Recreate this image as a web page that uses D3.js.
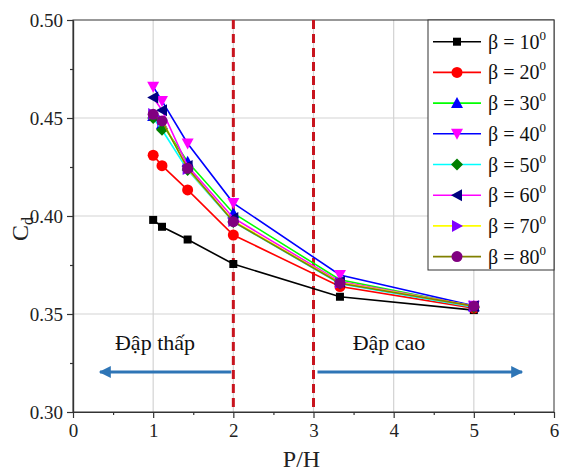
<!DOCTYPE html>
<html><head><meta charset="utf-8">
<script src="https://cdn.jsdelivr.net/npm/d3@7/dist/d3.min.js"></script>
<style>body{margin:0;background:#fff}svg{display:block}</style>
</head><body>
<svg id="c" width="561" height="471"></svg>
<script>
const xValues = [1, 1.11, 1.43, 2, 3.33, 5];
const betaLabels = ["10", "20", "30", "40", "50", "60", "70", "80"];
const beta10 = [0.398, 0.3945, 0.388, 0.3755, 0.3588, 0.3520];
const beta20 = [0.431, 0.4257, 0.4133, 0.3903, 0.3640, 0.3530];
const beta30 = [0.4510, 0.4470, 0.4277, 0.4014, 0.3675, 0.3540];
const beta40 = [0.4660, 0.4587, 0.4370, 0.4066, 0.3699, 0.3542];
const beta50 = [0.4500, 0.4440, 0.4235, 0.3970, 0.3655, 0.3535];
const beta60 = [0.4605, 0.4540, 0.4255, 0.3990, 0.3665, 0.3540];
const beta70 = [0.4520, 0.4490, 0.4240, 0.3975, 0.3660, 0.3540];
const beta80 = [0.4519, 0.4485, 0.4243, 0.3971, 0.3657, 0.3540];
const xTicks = [0, 1, 2, 3, 4, 5, 6];
const yTicks = [0.30, 0.35, 0.40, 0.45, 0.50];
const zoneLines = [2, 3];
const zoneLabels = ["Đập thấp", "Đập cao"];

const seriesData = [beta10, beta20, beta30, beta40, beta50, beta60, beta70, beta80];
const lineColors = ["#000000", "#ff0000", "#00ff00", "#0000ff", "#00ffff", "#ff00ff", "#ffff00", "#808000"];
const markerColors = ["#000000", "#ff0000", "#0000ff", "#ff00ff", "#007f00", "#000080", "#8000ff", "#800080"];
const markerTypes = ["square", "circle", "up", "down", "diamond", "left", "right", "circle"];

const svg = d3.select("#c");
const font = "'Liberation Serif', 'Times New Roman', serif";
const x = d3.scaleLinear().domain([0, 6]).range([73, 554]);
const y = d3.scaleLinear().domain([0.30, 0.50]).range([412, 20]);

// grid
const g = svg.append("g");
g.selectAll(".gx").data([1,2,3,4,5]).enter().append("line")
  .attr("x1", d => x(d)).attr("x2", d => x(d)).attr("y1", y(0.30)).attr("y2", y(0.50))
  .attr("stroke", "#d3d3d3").attr("stroke-width", 1.2);
g.selectAll(".gy").data([0.35,0.40,0.45]).enter().append("line")
  .attr("x1", x(0)).attr("x2", x(6)).attr("y1", d => y(d)).attr("y2", d => y(d))
  .attr("stroke", "#d3d3d3").attr("stroke-width", 1.2);

// frame
svg.append("rect").attr("x", x(0)).attr("y", y(0.50)).attr("width", x(6)-x(0)).attr("height", y(0.30)-y(0.50))
  .attr("fill", "none").attr("stroke", "#333").attr("stroke-width", 1);

// axes
const xAxis = svg.append("g").attr("transform", `translate(0,${y(0.30)})`)
  .call(d3.axisBottom(x).tickValues(xTicks).tickSize(6).tickSizeOuter(0).tickPadding(6).tickFormat(d3.format("d")));
const xMinor = svg.append("g").attr("transform", `translate(0,${y(0.30)})`)
  .call(d3.axisBottom(x).tickValues(d3.range(0.5, 6, 1)).tickSize(3).tickSizeOuter(0).tickFormat(""));
const yAxis = svg.append("g").attr("transform", `translate(${x(0)},0)`)
  .call(d3.axisLeft(y).tickValues(yTicks).tickSize(6).tickSizeOuter(0).tickPadding(4).tickFormat(d3.format(".2f")));
const yMinor = svg.append("g").attr("transform", `translate(${x(0)},0)`)
  .call(d3.axisLeft(y).tickValues([0.325,0.375,0.425,0.475]).tickSize(3).tickSizeOuter(0).tickFormat(""));
[xAxis, xMinor, yAxis, yMinor].forEach(a => {
  a.selectAll("path").attr("stroke", "#333").attr("stroke-width", 1.2);
  a.selectAll("line").attr("stroke", "#333").attr("stroke-width", 1.2);
  a.selectAll("text").attr("font-family", font).attr("font-size", 19).attr("fill", "#222");
});

// axis titles
svg.append("text").attr("x", x(2.85)).attr("y", 467).attr("text-anchor", "middle")
  .attr("font-family", font).attr("font-size", 24).attr("fill", "#222").text("P/H");
const yl = svg.append("text").attr("transform", "translate(28,229) rotate(-90)").attr("text-anchor", "middle")
  .attr("font-family", font).attr("font-size", 24).attr("fill", "#222");
yl.append("tspan").text("C");
yl.append("tspan").attr("font-size", 16).attr("dy", 5).text("d");

// zone dashed lines
svg.selectAll(".zl").data(zoneLines).enter().append("line")
  .attr("x1", d => x(d)).attr("x2", d => x(d)).attr("y1", y(0.50)).attr("y2", y(0.30))
  .attr("stroke", "#c8141e").attr("stroke-width", 3).attr("stroke-dasharray", "9,5");

// arrows
const defs = svg.append("defs");
defs.append("marker").attr("id", "ah").attr("viewBox", "0 0 10 10").attr("refX", 9).attr("refY", 5)
  .attr("markerWidth", 4.5).attr("markerHeight", 4).attr("orient", "auto-start-reverse")
  .attr("markerUnits", "strokeWidth")
  .append("path").attr("d", "M0,0 L10,5 L0,10 Z").attr("fill", "#2e75b6");
const arrowY = 372;
svg.append("line").attr("x1", x(2) - 2).attr("x2", 100).attr("y1", arrowY).attr("y2", arrowY)
  .attr("stroke", "#2e75b6").attr("stroke-width", 3).attr("marker-end", "url(#ah)");
svg.append("line").attr("x1", x(3) + 4).attr("x2", 522).attr("y1", arrowY).attr("y2", arrowY)
  .attr("stroke", "#2e75b6").attr("stroke-width", 3).attr("marker-end", "url(#ah)");
svg.append("text").attr("x", 155).attr("y", 350).attr("text-anchor", "middle")
  .attr("font-family", font).attr("font-size", 22).attr("fill", "#111").text(zoneLabels[0]);
svg.append("text").attr("x", 389).attr("y", 350).attr("text-anchor", "middle")
  .attr("font-family", font).attr("font-size", 22).attr("fill", "#111").text(zoneLabels[1]);

// marker drawing
function drawMarker(sel, type, color) {
  const s = 5;
  let d;
  switch (type) {
    case "square": d = `M${-s+1},${-s+1}h${2*s-2}v${2*s-2}h${-(2*s-2)}Z`; break;
    case "up": d = `M0,${-s-1} L${s+1},${s} L${-s-1},${s} Z`; break;
    case "down": d = `M0,${s+1} L${s+1},${-s} L${-s-1},${-s} Z`; break;
    case "left": d = `M${-s-1},0 L${s},${-s-1} L${s},${s+1} Z`; break;
    case "right": d = `M${s+1},0 L${-s},${-s-1} L${-s},${s+1} Z`; break;
    case "diamond": d = `M0,${-s-1} L${s+1},0 L0,${s+1} L${-s-1},0 Z`; break;
  }
  if (type === "circle") {
    sel.append("circle").attr("r", 5.5).attr("fill", color);
  } else {
    sel.append("path").attr("d", d).attr("fill", color);
  }
}

// series
const line = d3.line().x((d, i) => x(xValues[i])).y(d => y(d));
seriesData.forEach((vals, si) => {
  svg.append("path").datum(vals).attr("d", line).attr("fill", "none")
    .attr("stroke", lineColors[si]).attr("stroke-width", 1.6);
  vals.forEach((v, i) => {
    const m = svg.append("g").attr("transform", `translate(${x(xValues[i])},${y(v)})`);
    drawMarker(m, markerTypes[si], markerColors[si]);
  });
});

// legend
const lg = svg.append("g");
lg.append("rect").attr("x", 428).attr("y", 20).attr("width", 126).attr("height", 250)
  .attr("fill", "#fff").attr("stroke", "#333").attr("stroke-width", 1);
betaLabels.forEach((b, i) => {
  const ly = 41.7 + i * 30.7;
  lg.append("line").attr("x1", 433).attr("x2", 481).attr("y1", ly).attr("y2", ly)
    .attr("stroke", lineColors[i]).attr("stroke-width", 1.6);
  const m = lg.append("g").attr("transform", `translate(457,${ly})`);
  drawMarker(m, markerTypes[i], markerColors[i]);
  const t = lg.append("text").attr("x", 488).attr("y", ly + 7)
    .attr("font-family", font).attr("font-size", 20).attr("fill", "#111");
  t.append("tspan").text("β = " + b);
  t.append("tspan").attr("font-size", 13).attr("dy", -9).text("0");
});
</script>
</body></html>
